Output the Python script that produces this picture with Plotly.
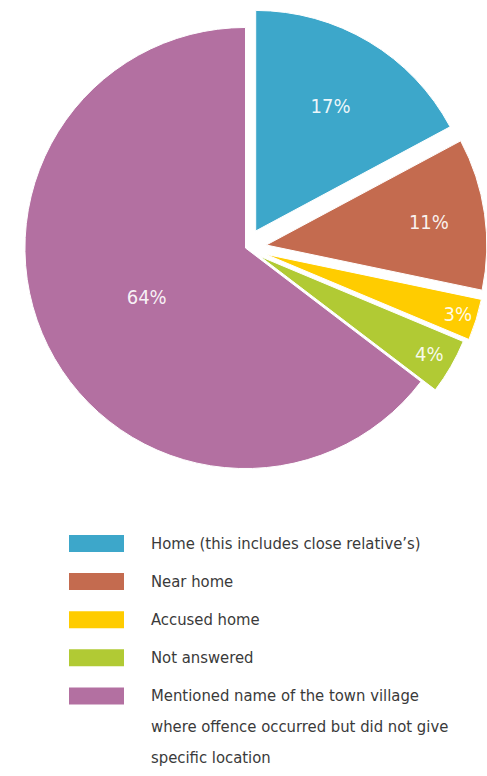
import plotly.graph_objects as go

# Where the offence took place (share of responses, %)
labels = [
    "Home (this includes close relative’s)",
    "Near home",
    "Accused home",
    "Not answered",
    "Mentioned name of the town village where offence occurred but did not give specific location",
]
legend_lines = [
    ["Home (this includes close relative’s)"],
    ["Near home"],
    ["Accused home"],
    ["Not answered"],
    ["Mentioned name of the town village",
     "where offence occurred but did not give",
     "specific location"],
]
values = [17, 11, 3, 4, 64]
colors = ["#3DA7CA", "#C46B4F", "#FFCC00", "#B1CA34", "#B370A1"]
pulls = [0.09, 0.095, 0.095, 0.075, 0.0]

W, H = 487, 776
ML, MR = 4, 0
PW = W - ML - MR
FONT = "Liberation Sans Narrow, Arial Narrow, DejaVu Sans Condensed, sans-serif"

fig = go.Figure(
    go.Pie(
        values=values,
        labels=labels,
        sort=False,
        direction="clockwise",
        rotation=0,
        pull=pulls,
        marker=dict(colors=colors, line=dict(color="white", width=1)),
        texttemplate="%{value}%",
        textposition="inside",
        insidetextorientation="horizontal",
        textfont=dict(family=FONT, size=20, color="rgba(255,255,255,0.92)"),
        domain=dict(x=[0, 1], y=[0.3608, 1.0]),
        showlegend=False,
        hoverinfo="label+value",
    )
)


def px_x(px):
    """Pixel column to paper x."""
    return (px - ML) / PW


def px_y(px):
    """Pixel row (from top) to paper y."""
    return 1 - px / H


# Hand-built legend: wide colour swatches with wrapped labels
row0, row_step, line_step = 543.5, 38.1, 31
sw_x0, sw_x1, txt_x = 69, 124, 149
shapes, annotations = [], []
for i, (c, lines) in enumerate(zip(colors, legend_lines)):
    yc = row0 + i * row_step
    shapes.append(dict(
        type="rect", xref="paper", yref="paper",
        x0=px_x(sw_x0), x1=px_x(sw_x1), y0=px_y(yc + 8.5), y1=px_y(yc - 8.5),
        fillcolor=c, line=dict(width=0), layer="above",
    ))
    for j, line in enumerate(lines):
        annotations.append(dict(
            xref="paper", yref="paper", x=px_x(txt_x), y=px_y(yc + j * line_step),
            xanchor="left", yanchor="middle", showarrow=False, text=line,
            font=dict(family=FONT, size=16.5, color="#3a3a3a"),
        ))

fig.update_layout(
    width=W, height=H,
    margin=dict(l=ML, r=MR, t=0, b=0),
    paper_bgcolor="white", plot_bgcolor="white",
    shapes=shapes, annotations=annotations,
    showlegend=False,
)

fig.write_html("out.html")
